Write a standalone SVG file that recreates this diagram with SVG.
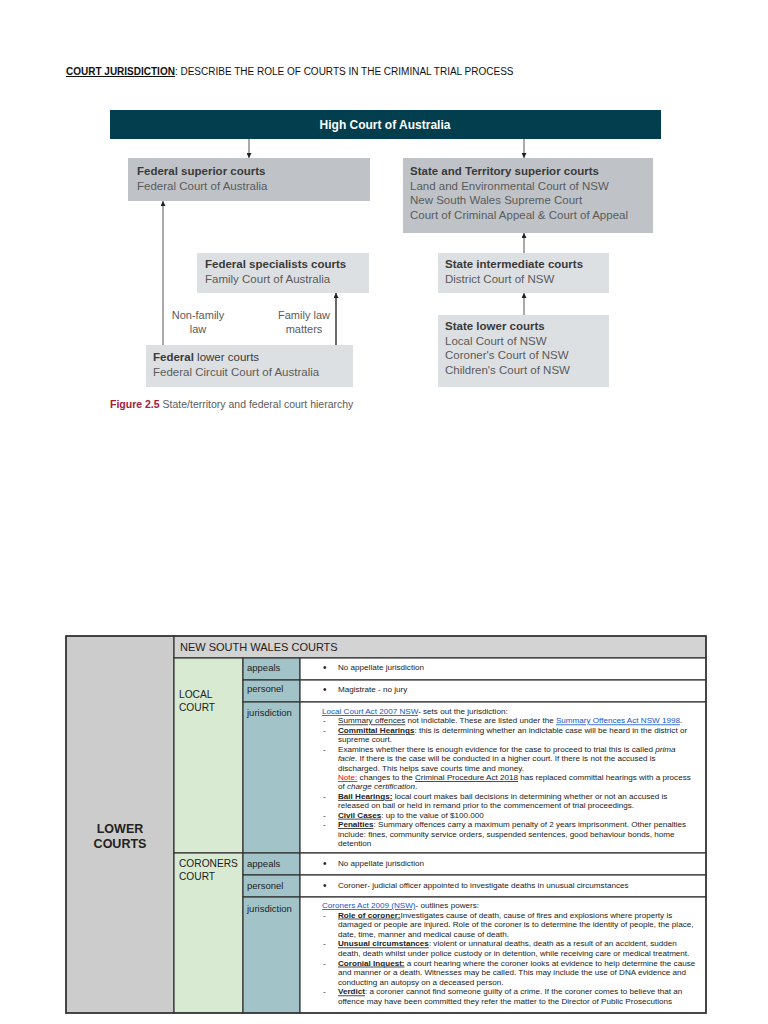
<svg xmlns="http://www.w3.org/2000/svg" width="768" height="1024" viewBox="0 0 768 1024">
<style>
  text { font-family: "Liberation Sans", Arial, sans-serif; }
  .hdr { font-size: 10px; fill: #111; }
  .bh { font-size: 11.5px; font-weight: bold; fill: #3a3a3a; }
  .bt { font-size: 11.5px; fill: #5a5a5a; }
  .lbl { font-size: 11px; fill: #5a5a5a; text-anchor: middle; }
  .sup { fill: #bfc3c8; }
  .low { fill: #dde0e3; }
  .ln { stroke: #555; stroke-width: 1; fill: none; }
  .lnk2 { stroke: #444; stroke-width: 1.6; fill: none; }
  .cell { stroke: #333; stroke-width: 1.2; }
  .c1 { fill: #cccccc; }
  .ch { fill: #d3d3d3; }
  .c2 { fill: #d9ead3; }
  .c3 { fill: #a2c4c9; }
  .c4 { fill: #ffffff; }
  .t11 { font-size: 11px; fill: #222; }
  .t10 { font-size: 10.2px; fill: #222; }
  .t12b { font-size: 12.5px; font-weight: bold; fill: #222; text-anchor: middle; }
  .t9 { font-size: 9.5px; fill: #222; }
  .t8 { font-size: 8.1px; fill: #222; }
  .bul { font-size: 10px; fill: #222; }
  .lk { fill: #1155cc; text-decoration: underline; }
  .bu { font-weight: bold; text-decoration: underline; }
  .u { text-decoration: underline; }
  .it { font-style: italic; }
  .red { fill: #ff0000; text-decoration: underline; }
</style>
<defs>
  <marker id="ah" viewBox="0 0 10 10" refX="10" refY="5" markerWidth="8" markerHeight="5" markerUnits="userSpaceOnUse" orient="auto">
    <path d="M0,0 L10,5 L0,10 z" fill="#222"/>
  </marker>
</defs>

<text class="hdr" x="66" y="75"><tspan font-weight="bold" text-decoration="underline">COURT JURISDICTION</tspan>: DESCRIBE THE ROLE OF COURTS IN THE CRIMINAL TRIAL PROCESS</text>

<g id="connectors">
  <line class="ln" x1="249" y1="139" x2="249" y2="158" marker-end="url(#ah)"/>
  <line class="ln" x1="524" y1="139" x2="524" y2="158" marker-end="url(#ah)"/>
  <line class="ln" x1="163" y1="345" x2="163" y2="201" marker-end="url(#ah)"/>
  <line class="lnk2" x1="336" y1="345" x2="336" y2="293" marker-end="url(#ah)"/>
  <line class="ln" x1="524" y1="253" x2="524" y2="233" marker-end="url(#ah)"/>
  <line class="ln" x1="524" y1="315" x2="524" y2="293" marker-end="url(#ah)"/>
  <text class="lbl" x="198" y="319">Non-family</text>
  <text class="lbl" x="198" y="333">law</text>
  <text class="lbl" x="304" y="319">Family law</text>
  <text class="lbl" x="304" y="333">matters</text>
</g>

<g id="high-court">
  <rect x="110" y="110" width="551" height="29" fill="#023e4d"/>
  <text x="385" y="128.5" font-size="12" font-weight="bold" fill="#ffffff" text-anchor="middle">High Court of Australia</text>
</g>

<g id="federal-superior">
  <rect class="sup" x="128" y="158" width="242" height="43"/>
  <text class="bh" x="137" y="175">Federal superior courts</text>
  <text class="bt" x="137" y="190">Federal Court of Australia</text>
</g>

<g id="state-superior">
  <rect class="sup" x="403" y="158" width="250" height="75"/>
  <text class="bh" x="410" y="175">State and Territory superior courts</text>
  <text class="bt" x="410" y="190">Land and Environmental Court of NSW</text>
  <text class="bt" x="410" y="204">New South Wales Supreme Court</text>
  <text class="bt" x="410" y="219">Court of Criminal Appeal &amp; Court of Appeal</text>
</g>

<g id="federal-specialists">
  <rect class="low" x="197" y="253" width="172" height="40"/>
  <text class="bh" x="205" y="268">Federal specialists courts</text>
  <text class="bt" x="205" y="283">Family Court of Australia</text>
</g>

<g id="state-intermediate">
  <rect class="low" x="438" y="253" width="171" height="40"/>
  <text class="bh" x="445" y="268">State intermediate courts</text>
  <text class="bt" x="445" y="283">District Court of NSW</text>
</g>

<g id="state-lower">
  <rect class="low" x="438" y="315" width="171" height="72"/>
  <text class="bh" x="445" y="330">State lower courts</text>
  <text class="bt" x="445" y="345">Local Court of NSW</text>
  <text class="bt" x="445" y="359">Coroner's Court of NSW</text>
  <text class="bt" x="445" y="374">Children's Court of NSW</text>
</g>

<g id="federal-lower">
  <rect class="low" x="146" y="345" width="207" height="42"/>
  <text class="bh" x="153" y="361">Federal <tspan font-weight="normal" fill="#3a3a3a">lower courts</tspan></text>
  <text class="bt" x="153" y="376">Federal Circuit Court of Australia</text>
</g>

<text x="110" y="408" font-size="10.5" fill="#5a5a5a"><tspan font-weight="bold" fill="#a3203a">Figure 2.5</tspan> State/territory and federal court hierarchy</text>

<g id="table">
  <rect class="cell c1" x="66" y="636" width="108" height="377"/>
  <rect class="cell ch" x="174" y="636" width="532" height="22"/>
  <rect class="cell c2" x="174" y="658" width="69" height="195"/>
  <rect class="cell c2" x="174" y="853" width="69" height="160"/>
  <rect class="cell c3" x="243" y="658" width="57" height="22"/>
  <rect class="cell c3" x="243" y="680" width="57" height="22"/>
  <rect class="cell c3" x="243" y="702" width="57" height="151"/>
  <rect class="cell c3" x="243" y="853" width="57" height="22"/>
  <rect class="cell c3" x="243" y="875" width="57" height="22"/>
  <rect class="cell c3" x="243" y="897" width="57" height="116"/>
  <rect class="cell c4" x="300" y="658" width="406" height="22"/>
  <rect class="cell c4" x="300" y="680" width="406" height="22"/>
  <rect class="cell c4" x="300" y="702" width="406" height="151"/>
  <rect class="cell c4" x="300" y="853" width="406" height="22"/>
  <rect class="cell c4" x="300" y="875" width="406" height="22"/>
  <rect class="cell c4" x="300" y="897" width="406" height="116"/>
  <rect x="66" y="636" width="640" height="377" fill="none" stroke="#333" stroke-width="1.5"/>

  <text class="t12b" x="120" y="833">LOWER</text>
  <text class="t12b" x="120" y="848">COURTS</text>
  <text class="t11" x="180" y="651">NEW SOUTH WALES COURTS</text>
  <text class="t10" x="179" y="698">LOCAL</text>
  <text class="t10" x="179" y="711">COURT</text>
  <text class="t10" x="179" y="867">CORONERS</text>
  <text class="t10" x="179" y="880">COURT</text>

  <text class="t9" x="247" y="671">appeals</text>
  <text class="t9" x="247" y="692">personel</text>
  <text class="t9" x="247" y="716">jurisdiction</text>
  <text class="t9" x="247" y="867">appeals</text>
  <text class="t9" x="247" y="889">personel</text>
  <text class="t9" x="247" y="912">jurisdiction</text>

  <text class="bul" x="323" y="671">•</text>
  <text class="t8" x="338" y="670">No appellate jurisdiction</text>
  <text class="bul" x="323" y="693">•</text>
  <text class="t8" x="338" y="692">Magistrate - no jury</text>

  <text class="t8" x="322" y="714"><tspan class="lk">Local Court Act 2007 NSW</tspan>- sets out the jurisdiction:</text>
  <text class="t8" x="323" y="723.4">-</text>
  <text class="t8" x="338" y="723.4"><tspan class="u">Summary offences</tspan> not indictable. These are listed under the <tspan class="lk">Summary Offences Act NSW 1998</tspan>.</text>
  <text class="t8" x="323" y="732.9">-</text>
  <text class="t8" x="338" y="732.9"><tspan class="bu">Committal Hearings</tspan>: this is determining whether an indictable case will be heard in the district or</text>
  <text class="t8" x="338" y="742.3">supreme court.</text>
  <text class="t8" x="323" y="751.7">-</text>
  <text class="t8" x="338" y="751.7">Examines whether there is enough evidence for the case to proceed to trial this is called <tspan class="it">prima</tspan></text>
  <text class="t8" x="338" y="761.2"><tspan class="it">facie</tspan>. If there is the case will be conducted in a higher court. If there is not the accused is</text>
  <text class="t8" x="338" y="770.6">discharged. This helps save courts time and money.</text>
  <text class="t8" x="338" y="780"><tspan class="red">Note:</tspan> changes to the <tspan class="u">Criminal Procedure Act 2018</tspan> has replaced committal hearings with a process</text>
  <text class="t8" x="338" y="789.4">of <tspan class="it">charge certification</tspan>.</text>
  <text class="t8" x="323" y="798.9">-</text>
  <text class="t8" x="338" y="798.9"><tspan class="bu">Bail Hearings:</tspan> local court makes bail decisions in determining whether or not an accused is</text>
  <text class="t8" x="338" y="808.3">released on bail or held in remand prior to the commencement of trial proceedings.</text>
  <text class="t8" x="323" y="817.7">-</text>
  <text class="t8" x="338" y="817.7"><tspan class="bu">Civil Cases</tspan>: up to the value of $100.000</text>
  <text class="t8" x="323" y="827.2">-</text>
  <text class="t8" x="338" y="827.2"><tspan class="bu">Penalties</tspan>: Summary offences carry a maximum penalty of 2 years imprisonment. Other penalties</text>
  <text class="t8" x="338" y="836.6">include: fines, community service orders, suspended sentences, good behaviour bonds, home</text>
  <text class="t8" x="338" y="846">detention</text>

  <text class="bul" x="323" y="867">•</text>
  <text class="t8" x="338" y="866">No appellate jurisdiction</text>
  <text class="bul" x="323" y="889">•</text>
  <text class="t8" x="338" y="888">Coroner- judicial officer appointed to investigate deaths in unusual circumstances</text>

  <text class="t8" x="322" y="908"><tspan class="lk">Coroners Act 2009 (NSW)</tspan>- outlines powers:</text>
  <text class="t8" x="323" y="917.6">-</text>
  <text class="t8" x="338" y="917.6"><tspan class="bu">Role of coroner:</tspan>Investigates cause of death, cause of fires and explosions where property is</text>
  <text class="t8" x="338" y="927.2">damaged or people are injured. Role of the coroner is to determine the identity of people, the place,</text>
  <text class="t8" x="338" y="936.8">date, time, manner and medical cause of death.</text>
  <text class="t8" x="323" y="946.4">-</text>
  <text class="t8" x="338" y="946.4"><tspan class="bu">Unusual circumstances</tspan>: violent or unnatural deaths, death as a result of an accident, sudden</text>
  <text class="t8" x="338" y="956">death, death whilst under police custody or in detention, while receiving care or medical treatment.</text>
  <text class="t8" x="323" y="965.6">-</text>
  <text class="t8" x="338" y="965.6"><tspan class="bu">Coronial Inquest:</tspan> a court hearing where the coroner looks at evidence to help determine the cause</text>
  <text class="t8" x="338" y="975.2">and manner or a death. Witnesses may be called. This may include the use of DNA evidence and</text>
  <text class="t8" x="338" y="984.8">conducting an autopsy on a deceased person.</text>
  <text class="t8" x="323" y="994.4">-</text>
  <text class="t8" x="338" y="994.4"><tspan class="bu">Verdict</tspan>: a coroner cannot find someone guilty of a crime. If the coroner comes to believe that an</text>
  <text class="t8" x="338" y="1004">offence may have been committed they refer the matter to the Director of Public Prosecutions</text>
</g>
</svg>
